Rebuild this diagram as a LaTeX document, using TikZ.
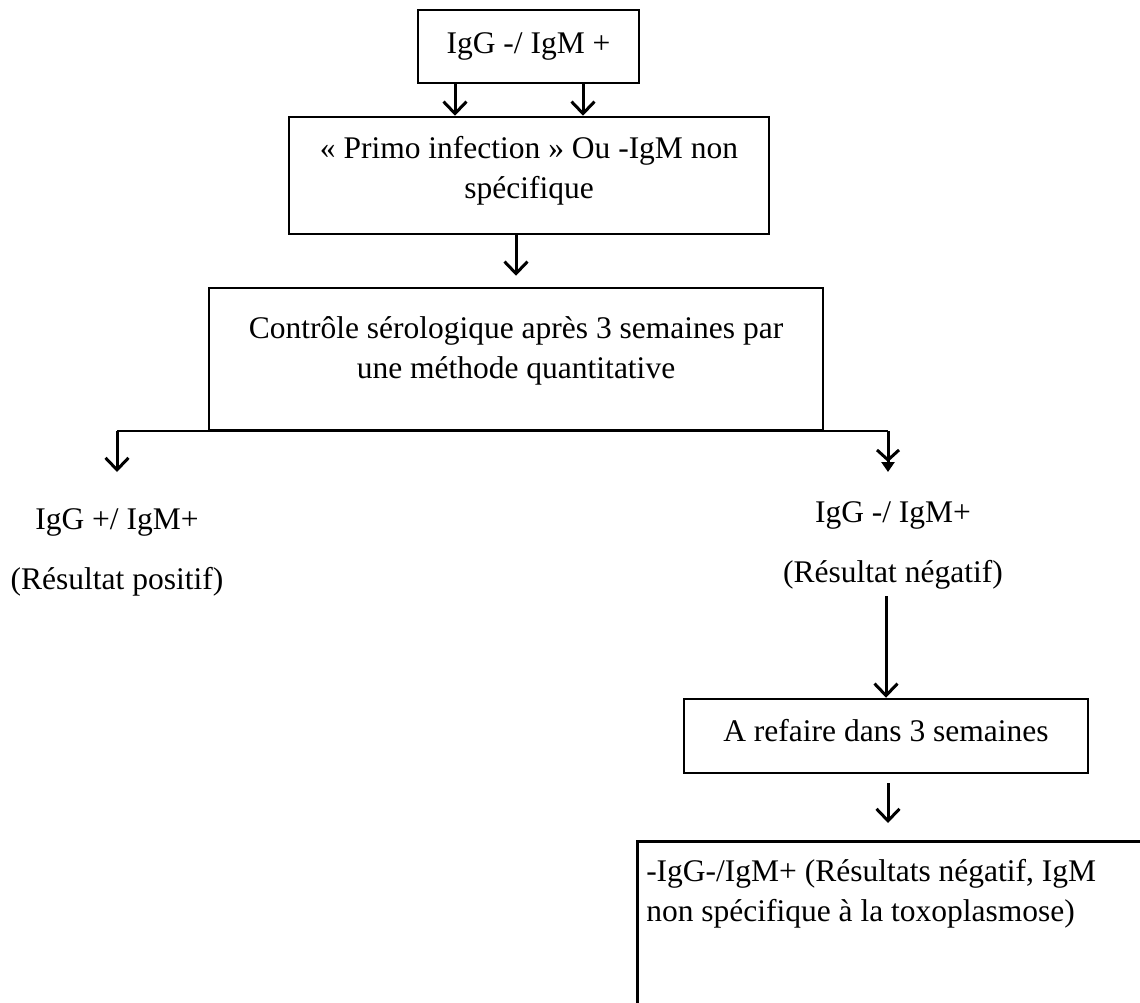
\documentclass[tikz,border=0pt]{standalone}
\usepackage{fontspec}
\setmainfont{Liberation Serif}
\usepackage{tikz}
\usetikzlibrary{arrows.meta, positioning}
\tikzset{
  box/.style={rectangle, draw=black, line width=2.5pt, align=center, inner sep=0pt},
  res/.style={align=center, inner sep=0pt},
  arr/.style={-{Straight Barb[length=12pt,width=23pt]}, line width=3pt},
  arrtri/.style={-{Straight Barb[length=10pt,width=22pt] Triangle[length=10pt,width=13pt]}, line width=3pt},
  split/.style={line width=1.5pt},
}

\begin{document}
\begin{tikzpicture}[x=1pt, y=-1pt, font=\fontsize{31.5}{40}\selectfont]
\useasboundingbox (0,0) rectangle (1140,1003);
\clip (0,0) rectangle (1140,1003);
% ---- boxes ----
\node[box, minimum width=221pt, minimum height=73pt] (igm) at (528.5,46.5) {IgG -/ IgM +};
\node[box, minimum width=480pt, minimum height=117pt, text depth=17pt] (primo) at (529,175.5)
  {« Primo infection » Ou -IgM non\\ spécifique};
\node[box, minimum width=614pt, minimum height=142pt, text depth=23pt] (ctrl) at (516,359)
  {Contrôle sérologique après 3 semaines par\\ une méthode quantitative};
\node[box, minimum width=404pt, minimum height=74pt, text depth=12pt] (refaire) at (886,736)
  {A refaire dans 3 semaines};
\node[box, anchor=north west, text width=520pt, align=flush left, inner xsep=9pt, inner ysep=18pt,
  text depth=200pt] (nonspec) at (636,840)
  {-IgG-/IgM+ (Résultats négatif, IgM\\ non spécifique à la toxoplasmose)};
% ---- results ----
\node[res, anchor=north] (posres) at (117,508) {IgG +/ IgM+\\[20pt] (Résultat positif)};
\node[res, anchor=north] (negres) at (893,501) {IgG -/ IgM+\\[20pt] (Résultat négatif)};
% ---- split under the control box ----
\coordinate (splitL) at (117,431);
\coordinate (splitR) at (888,431);
\coordinate (tipL) at (117,472);
\coordinate (tipR) at (888,472);
\draw[split] (splitL) -- (splitR);
\draw[arr] (splitL) -- (tipL);
\draw[arrtri] (splitR) -- (tipR);
% ---- arrows ----
\draw[arr] ([xshift=-73.5pt]igm.south) -- ([xshift=-73.5pt]igm.south |- primo.north);
\draw[arr] ([xshift=54.5pt]igm.south) -- ([xshift=54.5pt]igm.south |- primo.north);
\draw[arr, shorten >=11pt] (ctrl.north |- primo.south) -- (ctrl.north);
\draw[arr, shorten <=7pt] (refaire.north |- negres.south) -- (refaire.north);
\draw[arr, shorten <=9pt, shorten >=17pt] ([xshift=2pt]refaire.south) -- ([xshift=2pt]refaire.south |- nonspec.north);
\end{tikzpicture}
\end{document}
